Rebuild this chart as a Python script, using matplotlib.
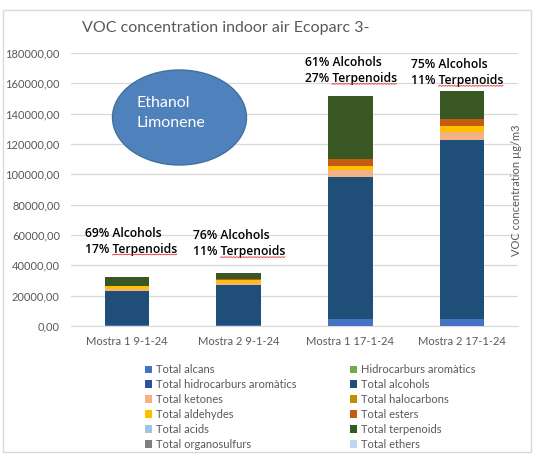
import numpy as np
import matplotlib.pyplot as plt
from matplotlib.patches import Ellipse, Rectangle

plt.rcParams['font.family'] = ['Lato', 'DejaVu Sans']

out_file = "out.png"

samples = ["Mostra 1 9-1-24", "Mostra 2 9-1-24", "Mostra 1 17-1-24", "Mostra 2 17-1-24"]

# ug/m3
alcans = [500, 600, 4400, 4800]
hidro_arom = [0, 0, 0, 0]
total_hidro_arom = [0, 0, 0, 0]
alcohols = [22600, 26500, 94100, 118000]
ketones = [1000, 1300, 4500, 5100]
halocarbons = [0, 0, 0, 0]
aldehydes = [2000, 2000, 2800, 3700]
esters = [500, 600, 4200, 4800]
acids = [0, 0, 0, 0]
terpenoids = [5500, 3800, 41800, 18700]
organosulfurs = [0, 0, 0, 0]
ethers = [0, 0, 0, 0]

series = [
    ("Total alcans", alcans, "#4472C4"),
    ("Hidrocarburs aromàtics", hidro_arom, "#70AD47"),
    ("Total hidrocarburs aromàtics", total_hidro_arom, "#2F4F9A"),
    ("Total alcohols", alcohols, "#1F4E79"),
    ("Total ketones", ketones, "#F4B183"),
    ("Total halocarbons", halocarbons, "#BF9000"),
    ("Total aldehydes", aldehydes, "#FFC000"),
    ("Total esters", esters, "#C55A11"),
    ("Total acids", acids, "#9DC3E6"),
    ("Total terpenoids", terpenoids, "#385723"),
    ("Total organosulfurs", organosulfurs, "#7F7F7F"),
    ("Total ethers", ethers, "#BDD7EE"),
]

alc_pct = ["69%", "76%", "61%", "75%"]
terp_pct = ["17%", "11%", "27%", "11%"]
note_pos = [(-0.375, 55800), (-0.41, 54100), (-0.41, 168300), (-0.46, 167000)]

yticks = np.arange(0, 180001, 20000)
ytick_labels = ["%d,00" % v for v in yticks]

grey = "#595959"
note_font = dict(fontsize=8.7, family=["Open Sans", "DejaVu Sans"],
                 fontweight="semibold", color="black")

fig = plt.figure(figsize=(5.4, 4.59), dpi=100)
ax = fig.add_axes([71/540, 1 - 326/459, 447/540, 273/459])

x = np.arange(len(samples))
bottom = np.zeros(len(samples))
handles = []
for name, vals, col in series:
    b = ax.bar(x, vals, 0.4, bottom=bottom, color=col, label=name, linewidth=0, zorder=3)
    handles.append(b)
    bottom += np.array(vals)

ax.set_xlim(-0.5, 3.5)
ax.set_ylim(0, 180000)
ax.set_yticks(yticks)
ax.set_yticklabels(ytick_labels)
ax.set_xticks(x)
ax.set_xticklabels(samples)
ax.tick_params(length=0, labelsize=8, labelcolor=grey)
ax.tick_params(axis="y", pad=8)
ax.tick_params(axis="x", pad=7)
ax.grid(axis="y", color="#D9D9D9", linewidth=0.9, zorder=0)
for s in ["top", "right", "left"]:
    ax.spines[s].set_visible(False)
ax.spines["bottom"].set_color("#D9D9D9")

renderer = fig.canvas.get_renderer()
inv = fig.transFigure.inverted()
for i in range(len(samples)):
    dx, y = note_pos[i]
    t = ax.text(i + dx, y, "%s Alcohols\n%s Terpenoids" % (alc_pct[i], terp_pct[i]),
                ha="left", va="center", linespacing=1.3, zorder=5, **note_font)
    # red spell-check squiggle under "Terpenoids"
    bb = t.get_window_extent(renderer)
    pre = fig.text(0, 0, "%s " % terp_pct[i], **note_font)
    w_pre = pre.get_window_extent(renderer).width
    pre.remove()
    word = fig.text(0, 0, "Terpenoids", **note_font)
    w_word = word.get_window_extent(renderer).width
    word.remove()
    xs = np.arange(bb.x0 + w_pre, bb.x0 + w_pre + w_word, 1.5)
    ys = bb.y0 + 1.0 + 0.7 * (np.arange(len(xs)) % 2)
    pts = inv.transform(np.column_stack([xs, ys]))
    fig.lines.append(plt.Line2D(pts[:, 0], pts[:, 1], color="#E03030", linewidth=0.6,
                                transform=fig.transFigure))

fig.text(82/540, 1 - 28/459, "VOC concentration indoor air Ecoparc 3-",
         fontsize=11.5, color=grey, ha="left", va="center")
fig.text(517/540, 1 - 190/459, "VOC concentration µg/m3", rotation=90,
         fontsize=8, color=grey, ha="center", va="center")

# Ethanol / Limonene bubble
ell = Ellipse((179.5/540, 1 - 117.5/459), 134/540, 95/459, transform=fig.transFigure,
              facecolor="#4F81BD", edgecolor="#41719C", linewidth=1, zorder=10)
fig.patches.append(ell)
fig.text(137/540, 1 - 103/459, "Ethanol", color="white", fontsize=11.5,
         ha="left", va="center", zorder=11)
fig.text(137/540, 1 - 123/459, "Limonene", color="white", fontsize=11.5,
         ha="left", va="center", zorder=11)

# chart frame
frame = Rectangle((3/540, 1 - 452/459), 528/540, 442/459, transform=fig.transFigure,
                  fill=False, edgecolor="#D9D9D9", linewidth=1)
fig.patches.append(frame)

order = [0, 2, 4, 6, 8, 10, 1, 3, 5, 7, 9, 11]
fig.legend([handles[i] for i in order], [series[i][0] for i in order],
           ncol=2, loc="center", bbox_to_anchor=(310/540, 1 - 407/459),
           frameon=False, fontsize=8, labelcolor=grey, handlelength=0.7,
           handleheight=0.7, handletextpad=0.3, columnspacing=4.8,
           labelspacing=0.35, borderpad=0)

fig.savefig(out_file, dpi=100)
